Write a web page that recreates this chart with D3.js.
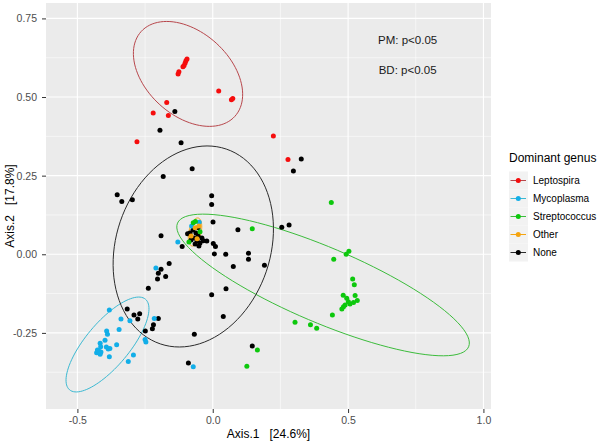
<!DOCTYPE html>
<html>
<head>
<meta charset="utf-8">
<script src="https://cdn.jsdelivr.net/npm/d3@7"></script>
<style>
  body { margin: 0; background: #fff; }
  svg { display: block; font-family: "Liberation Sans", Arial, sans-serif; }
</style>
</head>
<body>
<svg id="chart" width="600" height="443"></svg>
<script>
// ---------------- data ----------------
const groups = ["Leptospira", "Mycoplasma", "Streptococcus", "Other", "None"];
const pointColors = ["#f50d0d", "#12aee8", "#0dc80d", "#f5a40f", "#000000"];
const ellipseColors = ["#b8474c", "#3bb9d2", "#3cbc3c", "#f5a40f", "#2b2b2b"];

const xTicks = [-0.5, 0.0, 0.5, 1.0];
const xTickLabels = ["-0.5", "0.0", "0.5", "1.0"];
const yTicks = [-0.25, 0.0, 0.25, 0.5, 0.75];
const yTickLabels = ["-0.25", "0.00", "0.25", "0.50", "0.75"];
const xMinor = [-0.25, 0.25, 0.75];
const yMinor = [-0.375, -0.125, 0.125, 0.375, 0.625];

const leptospiraX = [-0.095, -0.099, -0.102, -0.106, -0.110, -0.125, -0.128, 0.022, 0.074, 0.069, -0.170, -0.220, -0.164, -0.280, 0.224, 0.278];
const leptospiraY = [0.621, 0.615, 0.608, 0.600, 0.596, 0.580, 0.573, 0.519, 0.495, 0.491, 0.483, 0.449, 0.441, 0.358, 0.376, 0.301];

const mycoplasmaX = [-0.382, -0.339, -0.306, -0.346, -0.392, -0.389, -0.398, -0.355, -0.416, -0.414, -0.393, -0.386, -0.380, -0.423, -0.429, -0.416, -0.420, -0.426, -0.413, -0.382, -0.293, -0.312, -0.216, -0.250, -0.247, -0.210, -0.129, -0.072, -0.078, -0.050];
const mycoplasmaY = [-0.177, -0.206, -0.211, -0.239, -0.244, -0.254, -0.273, -0.288, -0.283, -0.294, -0.295, -0.301, -0.300, -0.312, -0.313, -0.318, -0.308, -0.304, -0.311, -0.326, -0.320, -0.341, -0.204, -0.271, -0.279, -0.044, 0.039, -0.358, 0.090, 0.102];

const streptococcusX = [0.438, 0.503, 0.493, 0.447, 0.517, 0.523, 0.482, 0.495, 0.526, 0.534, 0.520, 0.507, 0.489, 0.483, 0.477, 0.501, 0.442, 0.304, 0.361, 0.384, 0.165, 0.126, 0.146, -0.072, -0.064, -0.047, -0.088];
const streptococcusY = [0.165, 0.010, 0.000, -0.016, -0.079, -0.097, -0.130, -0.140, -0.131, -0.147, -0.153, -0.158, -0.161, -0.167, -0.174, -0.151, -0.193, -0.216, -0.224, -0.235, -0.304, -0.356, 0.081, 0.100, 0.104, 0.072, 0.039];

const otherX = [-0.065, -0.058, -0.080, -0.051];
const otherY = [0.084, 0.049, 0.058, 0.090];

const noneX = [-0.140, -0.195, -0.117, -0.076, -0.183, -0.353, -0.336, -0.297, 0.327, 0.298, -0.004, -0.004, 0.001, 0.093, 0.255, 0.282, -0.113, -0.093, -0.022, -0.035, 0.002, 0.010, 0.006, 0.048, 0.132, 0.132, 0.076, 0.191, -0.191, -0.161, -0.191, -0.201, -0.204, -0.174, -0.238, -0.316, -0.291, -0.277, -0.270, -0.201, -0.219, -0.223, -0.249, -0.068, -0.090, -0.004, 0.049, 0.039, 0.146, -0.073, -0.062, -0.054, -0.069, -0.058, -0.047, -0.080, -0.065, -0.054, -0.040, -0.084, -0.051];
const noneY = [0.454, 0.394, 0.355, 0.272, 0.247, 0.189, 0.168, 0.173, 0.303, 0.265, 0.186, 0.158, 0.103, 0.078, 0.086, 0.093, 0.025, 0.065, 0.042, 0.043, 0.034, 0.025, 0.001, 0.000, 0.003, -0.016, -0.039, -0.035, 0.059, -0.029, -0.048, -0.060, -0.079, -0.071, -0.108, -0.174, -0.193, -0.206, -0.189, -0.204, -0.224, -0.237, -0.244, -0.254, -0.346, -0.129, -0.110, -0.198, -0.292, 0.077, 0.068, 0.058, 0.052, 0.042, 0.036, 0.045, 0.033, 0.084, 0.052, 0.068, 0.026];

// 95% ellipses: centre, semi-major vector and semi-minor vector (data units)
const ellipseCX = [-0.0913, -0.3888, 0.4076, -0.0654, -0.0719];
const ellipseCY = [0.5735, -0.2869, -0.0976, 0.0709, 0.0248];
const ellipseAX = [0.173, 0.1401, 0.5377, 0.0111, 0.1218];
const ellipseAY = [-0.135, 0.1441, -0.1966, 0.0445, 0.3098];
const ellipseBX = [-0.104, 0.0621, -0.0542, 0.0222, 0.270];
const ellipseBY = [-0.098, -0.0447, -0.1099, -0.0032, -0.0787];

const annotations = ["PM: p<0.05", "BD: p<0.05"];
const annotX = [0.72, 0.72];
const annotY = [0.68, 0.586];

// ---------------- layout ----------------
const svg = d3.select("#chart");
const panel = { left: 46, right: 491, top: 3, bottom: 409 };
const x = d3.scaleLinear().domain([-0.616, 1.028]).range([panel.left, panel.right]);
const y = d3.scaleLinear().domain([-0.492, 0.799]).range([panel.bottom, panel.top]);

svg.append("rect").attr("x", panel.left).attr("y", panel.top)
  .attr("width", panel.right - panel.left).attr("height", panel.bottom - panel.top)
  .attr("fill", "#ebebeb");

const grid = svg.append("g");
xMinor.forEach(v => grid.append("line").attr("x1", x(v)).attr("x2", x(v)).attr("y1", panel.top).attr("y2", panel.bottom).attr("stroke", "#fff").attr("stroke-width", 0.55));
yMinor.forEach(v => grid.append("line").attr("y1", y(v)).attr("y2", y(v)).attr("x1", panel.left).attr("x2", panel.right).attr("stroke", "#fff").attr("stroke-width", 0.55));
xTicks.forEach(v => grid.append("line").attr("x1", x(v)).attr("x2", x(v)).attr("y1", panel.top).attr("y2", panel.bottom).attr("stroke", "#fff").attr("stroke-width", 1.1));
yTicks.forEach(v => grid.append("line").attr("y1", y(v)).attr("y2", y(v)).attr("x1", panel.left).attr("x2", panel.right).attr("stroke", "#fff").attr("stroke-width", 1.1));

// axes
const xAxis = svg.append("g").attr("transform", `translate(0,${panel.bottom})`)
  .call(d3.axisBottom(x).tickValues(xTicks).tickFormat((d, i) => xTickLabels[i]).tickSize(4).tickPadding(4));
const yAxis = svg.append("g").attr("transform", `translate(${panel.left},0)`)
  .call(d3.axisLeft(y).tickValues(yTicks).tickFormat((d, i) => yTickLabels[i]).tickSize(4).tickPadding(5));
[xAxis, yAxis].forEach(a => {
  a.select(".domain").remove();
  a.selectAll(".tick line").attr("stroke", "#333").attr("stroke-width", 1);
  a.selectAll(".tick text").attr("fill", "#4d4d4d").style("font-size", "10.5px").style("font-family", "Liberation Sans, Arial, sans-serif");
});

// ellipses
const tSteps = d3.range(0, 101).map(i => i / 100 * 2 * Math.PI);
const line = d3.line().x(d => x(d[0])).y(d => y(d[1]));
groups.forEach((g, i) => {
  const pts = tSteps.map(t => [
    ellipseCX[i] + Math.cos(t) * ellipseAX[i] + Math.sin(t) * ellipseBX[i],
    ellipseCY[i] + Math.cos(t) * ellipseAY[i] + Math.sin(t) * ellipseBY[i]
  ]);
  svg.append("path").attr("d", line(pts)).attr("fill", "none")
    .attr("stroke", ellipseColors[i]).attr("stroke-width", 1);
});

// points
const seriesX = [leptospiraX, mycoplasmaX, streptococcusX, otherX, noneX];
const seriesY = [leptospiraY, mycoplasmaY, streptococcusY, otherY, noneY];
const drawOrder = [4, 0, 1, 2, 3];
drawOrder.forEach(i => {
  const data = seriesX[i].map((v, j) => [v, seriesY[i][j]]);
  svg.append("g").selectAll("circle").data(data).join("circle")
    .attr("cx", d => x(d[0])).attr("cy", d => y(d[1])).attr("r", 2.5)
    .attr("fill", pointColors[i]);
});

// annotations
annotations.forEach((t, i) => {
  svg.append("text").attr("x", x(annotX[i])).attr("y", y(annotY[i]))
    .attr("text-anchor", "middle").attr("dominant-baseline", "central")
    .style("font-size", "11.5px").attr("fill", "#1a1a1a").text(t);
});

// axis titles
svg.append("text").attr("x", (panel.left + panel.right) / 2).attr("y", 438)
  .attr("text-anchor", "middle").style("font-size", "12px").style("white-space", "pre").attr("fill", "#000")
  .text("Axis.1   [24.6%]");
svg.append("text").attr("transform", `translate(14,${(panel.top + panel.bottom) / 2}) rotate(-90)`)
  .attr("text-anchor", "middle").style("font-size", "12px").style("white-space", "pre").attr("fill", "#000")
  .text("Axis.2   [17.8%]");

// legend
const leg = svg.append("g").attr("transform", "translate(509,0)");
leg.append("text").attr("x", 0).attr("y", 158).attr("dominant-baseline", "central")
  .style("font-size", "12px").attr("fill", "#000").text("Dominant genus");
groups.forEach((g, i) => {
  const cy = 180.5 + i * 18;
  leg.append("rect").attr("x", 0).attr("y", cy - 9).attr("width", 19).attr("height", 18).attr("fill", "#f2f2f2");
  leg.append("line").attr("x1", 1.5).attr("x2", 17).attr("y1", cy).attr("y2", cy)
    .attr("stroke", ellipseColors[i]).attr("stroke-width", 1);
  leg.append("circle").attr("cx", 9.3).attr("cy", cy).attr("r", 2.5).attr("fill", pointColors[i]);
  leg.append("text").attr("x", 24).attr("y", cy).attr("dominant-baseline", "central")
    .style("font-size", "10px").attr("fill", "#000").text(g);
});
</script>
</body>
</html>
